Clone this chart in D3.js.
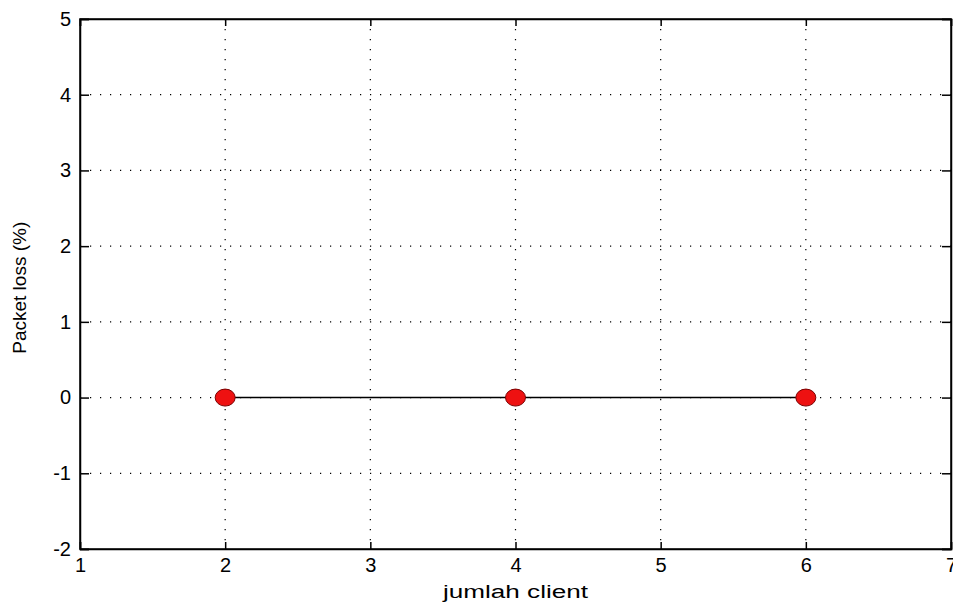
<!DOCTYPE html>
<html>
<head>
<meta charset="utf-8">
<script src="https://cdn.jsdelivr.net/npm/d3@7"></script>
<style>
  body { margin: 0; background: #fff; }
  text { font-family: "Liberation Sans", Arial, sans-serif; fill: #000; }
</style>
</head>
<body>
<div class="canvas"></div>
<script>
const clients = [2, 4, 6];
const packetLoss = [0, 0, 0];
const xTicks = [1, 2, 3, 4, 5, 6, 7];
const yTicks = [-2, -1, 0, 1, 2, 3, 4, 5];

const margin = { top: 19, right: 2, bottom: 56, left: 80 };
const width = 953, height = 605;
const graphWidth = width - margin.left - margin.right;
const graphHeight = height - margin.top - margin.bottom;

const svg = d3.select(".canvas").append("svg")
  .attr("width", width)
  .attr("height", height);

const graph = svg.append("g")
  .attr("transform", `translate(${margin.left},${margin.top})`);

const x = d3.scaleLinear().domain([1, 7]).range([0, graphWidth]);
const y = d3.scaleLinear().domain([-2, 5]).range([graphHeight, 0]);

// dotted grid
graph.append("g").selectAll("line")
  .data(xTicks.slice(1, -1))
  .join("line")
  .attr("x1", d => x(d)).attr("x2", d => x(d))
  .attr("y1", 0).attr("y2", graphHeight)
  .attr("stroke", "#000").attr("stroke-width", 1.2)
  .attr("stroke-dasharray", "1.2,8.8");

graph.append("g").selectAll("line")
  .data(yTicks.slice(1, -1))
  .join("line")
  .attr("x1", 0).attr("x2", graphWidth)
  .attr("y1", d => y(d)).attr("y2", d => y(d))
  .attr("stroke", "#000").attr("stroke-width", 1.2)
  .attr("stroke-dasharray", "1.2,8.8");

// axes with inward ticks (matlab style)
const fmt = d => String(d);
const xAxis = d3.axisBottom(x).tickValues(xTicks).tickSize(-7).tickPadding(9).tickFormat(fmt);
const yAxis = d3.axisLeft(y).tickValues(yTicks).tickSize(-9).tickPadding(9).tickFormat(fmt);

const xg = graph.append("g")
  .attr("transform", `translate(0,${graphHeight})`)
  .call(xAxis);
const yg = graph.append("g").call(yAxis);

graph.append("g").call(d3.axisTop(x).tickValues(xTicks).tickSize(-7).tickFormat(""));
graph.append("g").attr("transform", `translate(${graphWidth},0)`)
  .call(d3.axisRight(y).tickValues(yTicks).tickSize(-9).tickFormat(""));

graph.selectAll(".domain").attr("stroke", "#000").attr("stroke-width", 1.5);
graph.selectAll(".tick line").attr("stroke", "#000").attr("stroke-width", 1.5);

xg.selectAll("text").style("font-size", "20px").attr("dy", "0.71em");
yg.selectAll("text").style("font-size", "20px");

// box
graph.append("rect")
  .attr("width", graphWidth).attr("height", graphHeight)
  .attr("fill", "none").attr("stroke", "#000").attr("stroke-width", 1.5);

// data line
const points = clients.map((c, i) => ({ c, v: packetLoss[i] }));
graph.append("path")
  .datum(points)
  .attr("fill", "none")
  .attr("stroke", "#000")
  .attr("stroke-width", 1.5)
  .attr("d", d3.line().x(d => x(d.c)).y(d => y(d.v)));

graph.selectAll("ellipse.pt")
  .data(points)
  .join("ellipse")
  .attr("class", "pt")
  .attr("cx", d => x(d.c)).attr("cy", d => y(d.v))
  .attr("rx", 10).attr("ry", 8.5)
  .attr("fill", "#ee1111")
  .attr("stroke", "#7a0000").attr("stroke-width", 1);

// labels
svg.append("text")
  .attr("x", margin.left + x(4)).attr("y", 598)
  .attr("text-anchor", "middle")
  .attr("textLength", 145)
  .attr("lengthAdjust", "spacingAndGlyphs")
  .style("font-size", "18px")
  .text("jumlah client");

svg.append("text")
  .attr("transform", `translate(26,${margin.top + y(1.45)}) rotate(-90)`)
  .attr("text-anchor", "middle")
  .style("font-size", "19px")
  .text("Packet loss (%)");
</script>
</body>
</html>
